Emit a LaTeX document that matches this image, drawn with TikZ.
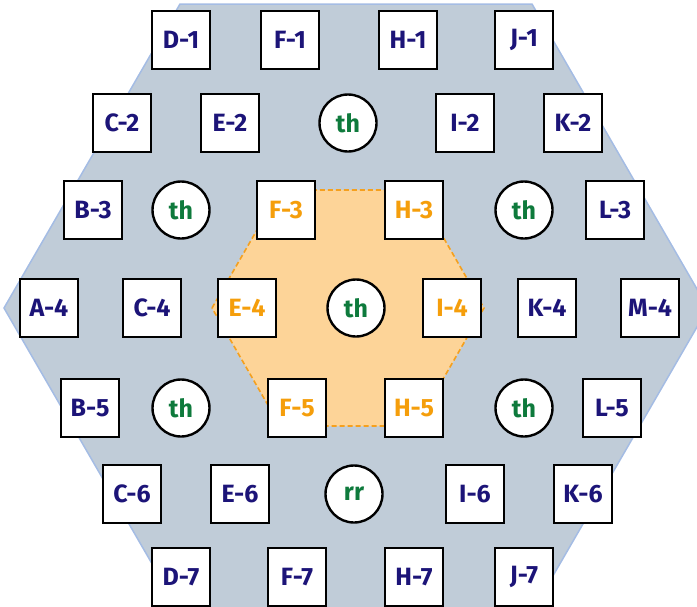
\documentclass[tikz,border=0pt]{standalone}
\usepackage{fontspec}
\setmainfont{Fira Sans}
\definecolor{hexfill}{HTML}{C0CCD8}
\definecolor{hexline}{HTML}{A4BCE4}
\definecolor{corefill}{HTML}{FDD498}
\definecolor{coreline}{HTML}{F5A01E}
\definecolor{navy}{HTML}{1C1478}
\definecolor{orangetxt}{HTML}{F59E0B}
\definecolor{greentxt}{HTML}{0E7A3C}
\tikzset{
  fuel/.style={draw=black, line width=2.4pt, fill=white, minimum size=58pt, inner sep=0pt,
    font=\fontsize{25}{25}\selectfont\bfseries, text=navy},
  corefuel/.style={fuel, text=orangetxt},
  thorium/.style={circle, draw=black, line width=2.4pt, fill=white, minimum size=57pt, inner sep=0pt,
    font=\fontsize{25}{25}\selectfont\bfseries, text=greentxt},
}
\begin{document}
\begin{tikzpicture}[x=1pt,y=-1pt]
\useasboundingbox (0,0) rectangle (697,606);
\clip (0,0) rectangle (697,606);
% outer hexagon
\draw[fill=hexfill, draw=hexline, line width=1.5pt]
  (4,308) -- (180,4) -- (532,4) -- (708,308) -- (532,612) -- (180,612) -- cycle;
% inner core hexagon
\draw[fill=corefill, draw=coreline, line width=1.6pt, dash pattern=on 5pt off 3pt]
  (212,308) -- (280,190) -- (416,190) -- (484,308) -- (416,426) -- (280,426) -- cycle;
% row 1
\node[fuel] (d1) at (181,40) {D-1};
\node[fuel] (f1) at (290,40) {F-1};
\node[fuel] (h1) at (408,40) {H-1};
\node[fuel] (j1) at (524,40) {J-1};
% row 2
\node[fuel] (c2) at (122,123) {C-2};
\node[fuel] (e2) at (230,123) {E-2};
\node[thorium] (th2) at (348,123) {th};
\node[fuel] (i2) at (465,123) {I-2};
\node[fuel] (k2) at (573,123) {K-2};
% row 3
\node[fuel] (b3) at (93,210) {B-3};
\node[thorium] (th3a) at (181,210) {th};
\node[corefuel] (f3) at (286,210) {F-3};
\node[corefuel] (h3) at (414,210) {H-3};
\node[thorium] (th3b) at (524,210) {th};
\node[fuel] (l3) at (615,210) {L-3};
% row 4
\node[fuel] (a4) at (49,308) {A-4};
\node[fuel] (c4) at (152,308) {C-4};
\node[corefuel] (e4) at (247,308) {E-4};
\node[thorium] (th4) at (356,308) {th};
\node[corefuel] (i4) at (452,308) {I-4};
\node[fuel] (k4) at (547,308) {K-4};
\node[fuel] (m4) at (650,308) {M-4};
% row 5
\node[fuel] (b5) at (90,408) {B-5};
\node[thorium] (th5a) at (181,408) {th};
\node[corefuel] (f5) at (297,408) {F-5};
\node[corefuel] (h5) at (414,408) {H-5};
\node[thorium] (th5b) at (524,408) {th};
\node[fuel] (l5) at (612,408) {L-5};
% row 6
\node[fuel] (c6) at (132,494) {C-6};
\node[fuel] (e6) at (240,494) {E-6};
\node[thorium] (rr6) at (354,494) {rr};
\node[fuel] (i6) at (475,494) {I-6};
\node[fuel] (k6) at (583,494) {K-6};
% row 7
\node[fuel] (d7) at (181,577) {D-7};
\node[fuel] (f7) at (297,577) {F-7};
\node[fuel] (h7) at (414,577) {H-7};
\node[fuel] (j7) at (524,577) {J-7};
\end{tikzpicture}
\end{document}
